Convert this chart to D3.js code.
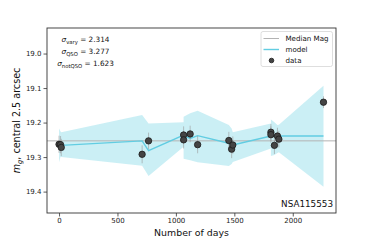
<!DOCTYPE html>
<html>
<head>
<meta charset="utf-8">
<script src="https://cdn.jsdelivr.net/npm/d3@7"></script>
<style>
  body { margin: 0; background: #fff; }
  text { font-family: "DejaVu Sans", sans-serif; }
</style>
</head>
<body>
<script>
// observed points
const days = [0, 13, 19, 711, 766, 1066, 1066, 1122, 1186, 1453, 1477, 1487, 1813, 1813, 1843, 1869, 1881, 2263];
const mags = [19.263, 19.264, 19.272, 19.292, 19.253, 19.236, 19.250, 19.233, 19.264, 19.252, 19.277, 19.265, 19.228, 19.235, 19.266, 19.239, 19.248, 19.141];
const errs = [0.025, 0.025, 0.025, 0.026, 0.024, 0.025, 0.025, 0.024, 0.025, 0.025, 0.026, 0.025, 0.024, 0.024, 0.025, 0.024, 0.024, 0.017];

// model mean and band (same times)
const modelMean = [19.264, 19.265, 19.266, 19.253, 19.281, 19.236, 19.238, 19.246, 19.238, 19.260, 19.264, 19.265, 19.239, 19.239, 19.239, 19.239, 19.239, 19.239];
const modelLow  = [19.217, 19.226, 19.228, 19.178, 19.203, 19.199, 19.183, 19.173, 19.166, 19.207, 19.217, 19.228, 19.203, 19.191, 19.199, 19.207, 19.206, 19.093];
const modelHigh = [19.315, 19.299, 19.300, 19.325, 19.355, 19.270, 19.305, 19.309, 19.315, 19.326, 19.320, 19.314, 19.275, 19.297, 19.294, 19.288, 19.286, 19.386];

const medianMag = 19.253;
const xTicks = [0, 500, 1000, 1500, 2000];
const yTicks = [19.0, 19.1, 19.2, 19.3, 19.4];
const sigmas = [["vary", "2.314"], ["QSO", "3.277"], ["notQSO", "1.623"]];
const objName = "NSA115553";

const width = 374, height = 240;
const margin = {top: 28, right: 38, bottom: 27, left: 47};

const svg = d3.select("body").append("svg")
  .attr("width", width)
  .attr("height", height);

const x = d3.scaleLinear()
  .domain([-103, 2370])
  .range([margin.left, width - margin.right]);

const y = d3.scaleLinear()
  .domain([18.926, 19.462])
  .range([margin.top, height - margin.bottom]);

const model = days.map((d, i) => ({d: d, m: modelMean[i], lo: modelLow[i], hi: modelHigh[i]}));

const blue = "#62cde2";

svg.append("path")
  .datum(model)
  .attr("fill", blue)
  .attr("fill-opacity", 0.33)
  .attr("d", d3.area().x(d => x(d.d)).y0(d => y(d.lo)).y1(d => y(d.hi)));

svg.append("line")
  .attr("x1", margin.left).attr("x2", width - margin.right)
  .attr("y1", y(medianMag)).attr("y2", y(medianMag))
  .attr("stroke", "#b3b3b3").attr("stroke-width", 1);

svg.append("path")
  .datum(model)
  .attr("fill", "none")
  .attr("stroke", blue)
  .attr("stroke-width", 1.4)
  .attr("d", d3.line().x(d => x(d.d)).y(d => y(d.m)));

const pts = days.map((d, i) => ({d: d, m: mags[i], e: errs[i]}));

svg.selectAll(".err")
  .data(pts)
  .enter()
  .append("line")
  .attr("x1", d => x(d.d)).attr("x2", d => x(d.d))
  .attr("y1", d => y(d.m - d.e)).attr("y2", d => y(d.m + d.e))
  .attr("stroke", "#999").attr("stroke-opacity", 0.6).attr("stroke-width", 1);

svg.selectAll(".pt")
  .data(pts)
  .enter()
  .append("circle")
  .attr("cx", d => x(d.d))
  .attr("cy", d => y(d.m))
  .attr("r", 3.2)
  .attr("fill", "#444")
  .attr("stroke", "#1a1a1a")
  .attr("stroke-width", 0.8);

// axes
const xAxis = svg.append("g")
  .attr("transform", `translate(0,${height - margin.bottom})`)
  .call(d3.axisBottom(x).tickValues(xTicks).tickSize(3.5).tickPadding(2).tickFormat(d3.format("d")));

const yAxis = svg.append("g")
  .attr("transform", `translate(${margin.left},0)`)
  .call(d3.axisLeft(y).tickValues(yTicks).tickSize(3.5).tickPadding(2).tickFormat(d3.format(".1f")));

[xAxis, yAxis].forEach(g => {
  g.select(".domain").remove();
  g.selectAll("text").attr("font-size", 7).attr("fill", "#222").attr("font-family", "DejaVu Sans");
  g.selectAll("line").attr("stroke", "#333").attr("stroke-width", 0.8);
});

svg.append("rect")
  .attr("x", margin.left).attr("y", margin.top)
  .attr("width", width - margin.left - margin.right)
  .attr("height", height - margin.top - margin.bottom)
  .attr("fill", "none").attr("stroke", "#333").attr("stroke-width", 0.9);

// labels
svg.append("text")
  .attr("x", (margin.left + width - margin.right) / 2)
  .attr("y", 236)
  .attr("text-anchor", "middle")
  .attr("font-size", 9.4)
  .attr("fill", "#111")
  .text("Number of days");

const yl = svg.append("text")
  .attr("transform", `translate(20,${(margin.top + height - margin.bottom) / 2}) rotate(-90)`)
  .attr("text-anchor", "middle")
  .attr("font-size", 9.6)
  .attr("fill", "#111");
yl.append("tspan").attr("font-style", "italic").text("m");
yl.append("tspan").attr("font-size", 6.7).attr("font-style", "italic").attr("dy", 2).text("g");
yl.append("tspan").attr("dy", -2).text(", central 2.5 arcsec");

sigmas.forEach((s, i) => {
  const t = svg.append("text")
    .attr("x", 85.5)
    .attr("y", 42 + i * 12)
    .attr("text-anchor", "middle")
    .attr("font-size", 7.3)
    .attr("fill", "#111");
  t.append("tspan").attr("font-style", "italic").text("σ");
  t.append("tspan").attr("font-size", 5.3).attr("dy", 1.5).text(s[0]);
  t.append("tspan").attr("dy", -1.5).text(" = " + s[1]);
});

svg.append("text")
  .attr("x", 333)
  .attr("y", 206.5)
  .attr("text-anchor", "end")
  .attr("font-size", 8.8)
  .attr("fill", "#111")
  .text(objName);

// legend
const lg = svg.append("g").attr("transform", "translate(261,31.5)");
lg.append("rect")
  .attr("width", 71.5).attr("height", 35).attr("rx", 2)
  .attr("fill", "#fff").attr("fill-opacity", 0.8)
  .attr("stroke", "#d6d6d6").attr("stroke-width", 0.8);
const items = ["Median Mag", "model", "data"];
items.forEach((name, i) => {
  const cy = 7 + i * 11;
  if (i === 0) {
    lg.append("line").attr("x1", 2.5).attr("x2", 18).attr("y1", cy).attr("y2", cy)
      .attr("stroke", "#b3b3b3").attr("stroke-width", 1);
  } else if (i === 1) {
    lg.append("line").attr("x1", 2.5).attr("x2", 18).attr("y1", cy).attr("y2", cy)
      .attr("stroke", blue).attr("stroke-width", 1.4);
  } else {
    lg.append("circle").attr("cx", 10.5).attr("cy", cy).attr("r", 2.3)
      .attr("fill", "#444").attr("stroke", "#1a1a1a").attr("stroke-width", 0.8);
  }
  lg.append("text")
    .attr("x", 24.5).attr("y", cy + 2.5)
    .attr("font-size", 7.1)
    .attr("fill", "#111")
    .text(name);
});
</script>
</body>
</html>
